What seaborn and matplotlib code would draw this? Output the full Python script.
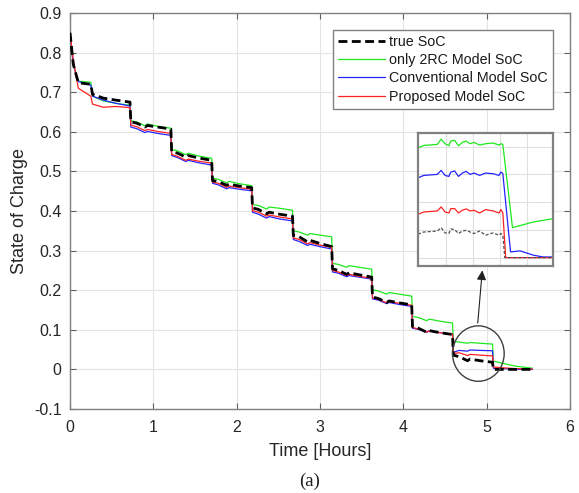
import numpy as np
import pandas as pd
import matplotlib
matplotlib.use("Agg")
import matplotlib.pyplot as plt
from matplotlib.patches import Ellipse
import seaborn as sns

# ---------------- data ----------------
time_h = [0.00, 0.04, 0.10, 0.25, 0.27, 0.40, 0.55, 0.72,
          0.73, 0.80, 0.90, 0.93, 1.05, 1.21,
          1.22, 1.29, 1.39, 1.42, 1.54, 1.70,
          1.71, 1.78, 1.88, 1.91, 2.03, 2.18,
          2.19, 2.26, 2.36, 2.39, 2.51, 2.67,
          2.68, 2.75, 2.85, 2.88, 3.00, 3.14,
          3.15, 3.22, 3.32, 3.35, 3.47, 3.62,
          3.63, 3.70, 3.80, 3.83, 3.95, 4.10,
          4.11, 4.18, 4.28, 4.31, 4.43, 4.59,
          4.60, 4.67, 4.77, 4.80, 4.92, 5.07,
          5.08, 5.20, 5.35, 5.55]

true_soc = [0.850, 0.770, 0.724, 0.720, 0.695, 0.685, 0.680, 0.675,
            0.625, 0.622, 0.612, 0.616, 0.612, 0.607,
            0.550, 0.546, 0.536, 0.540, 0.534, 0.528,
            0.477, 0.474, 0.465, 0.468, 0.463, 0.459,
            0.408, 0.404, 0.393, 0.397, 0.392, 0.387,
            0.338, 0.335, 0.322, 0.326, 0.318, 0.310,
            0.254, 0.250, 0.240, 0.244, 0.239, 0.233,
            0.183, 0.179, 0.169, 0.173, 0.168, 0.163,
            0.108, 0.104, 0.094, 0.098, 0.093, 0.088,
            0.036, 0.032, 0.022, 0.026, 0.022, 0.018,
            0.000, 0.000, 0.000, 0.000]

rc2_soc = [0.850, 0.770, 0.728, 0.725, 0.690, 0.678, 0.672, 0.667,
           0.628, 0.625, 0.615, 0.620, 0.614, 0.609,
           0.555, 0.552, 0.542, 0.546, 0.539, 0.533,
           0.483, 0.480, 0.471, 0.475, 0.469, 0.464,
           0.416, 0.414, 0.405, 0.410, 0.407, 0.402,
           0.350, 0.347, 0.339, 0.343, 0.339, 0.335,
           0.268, 0.265, 0.258, 0.262, 0.258, 0.253,
           0.201, 0.198, 0.190, 0.194, 0.190, 0.185,
           0.134, 0.131, 0.123, 0.127, 0.122, 0.117,
           0.070, 0.069, 0.066, 0.068, 0.066, 0.064,
           0.021, 0.015, 0.008, 0.003]

conv_soc = [0.850, 0.770, 0.727, 0.718, 0.690, 0.680, 0.672, 0.665,
            0.612, 0.608, 0.598, 0.601, 0.596, 0.591,
            0.540, 0.535, 0.525, 0.528, 0.522, 0.516,
            0.470, 0.466, 0.456, 0.459, 0.455, 0.451,
            0.397, 0.392, 0.382, 0.386, 0.380, 0.375,
            0.328, 0.323, 0.313, 0.316, 0.310, 0.304,
            0.246, 0.243, 0.234, 0.237, 0.233, 0.228,
            0.178, 0.175, 0.166, 0.169, 0.164, 0.159,
            0.104, 0.101, 0.094, 0.097, 0.093, 0.089,
            0.043, 0.048, 0.046, 0.049, 0.048, 0.047,
            0.003, 0.002, 0.000, 0.000]

prop_soc = [0.850, 0.780, 0.710, 0.690, 0.670, 0.662, 0.664, 0.661,
            0.617, 0.613, 0.603, 0.606, 0.601, 0.596,
            0.543, 0.538, 0.528, 0.531, 0.526, 0.521,
            0.473, 0.470, 0.460, 0.463, 0.459, 0.455,
            0.401, 0.397, 0.387, 0.390, 0.385, 0.380,
            0.332, 0.328, 0.317, 0.320, 0.314, 0.308,
            0.250, 0.246, 0.237, 0.240, 0.235, 0.230,
            0.181, 0.177, 0.168, 0.171, 0.167, 0.162,
            0.106, 0.102, 0.094, 0.097, 0.093, 0.089,
            0.040, 0.042, 0.035, 0.038, 0.036, 0.034,
            0.006, 0.004, 0.002, 0.001]

# inset (magnified view around t = 4.6 .. 5.3 h)
inset_t = [4.60, 4.63, 4.70, 4.72, 4.74, 4.76, 4.77, 4.79, 4.81, 4.83,
           4.85, 4.87, 4.89, 4.92, 4.95, 4.99, 5.02, 5.03, 5.04]
inset_rc2 = [0.0653, 0.0667, 0.0673, 0.0704, 0.0677, 0.0665, 0.0693, 0.0697, 0.0665, 0.0685,
             0.0693, 0.0677, 0.0685, 0.0669, 0.0677, 0.0681, 0.0669, 0.0677, 0.0673]
inset_conv = [0.0475, 0.0489, 0.0495, 0.0519, 0.0489, 0.0483, 0.0509, 0.0515, 0.0483, 0.0503,
              0.0513, 0.0495, 0.0503, 0.0489, 0.0503, 0.0499, 0.0489, 0.0509, 0.0499]
inset_prop = [0.0258, 0.0272, 0.0278, 0.0302, 0.0272, 0.0266, 0.0292, 0.0292, 0.0266, 0.0282,
              0.0290, 0.0278, 0.0282, 0.0266, 0.0286, 0.0278, 0.0266, 0.0286, 0.0266]
inset_true = [0.0140, 0.0153, 0.0159, 0.0179, 0.0148, 0.0144, 0.0171, 0.0167, 0.0144, 0.0159,
              0.0163, 0.0153, 0.0144, 0.0159, 0.0134, 0.0148, 0.0134, 0.0144, 0.0134]
tail_rc2_t, tail_rc2 = [5.09, 5.20, 5.30], [0.0179, 0.0213, 0.0232]
tail_conv_t, tail_conv = [5.08, 5.13, 5.20, 5.25, 5.30], [0.0035, 0.0041, 0.0015, 0.0005, 0.0005]
tail_prop_t, tail_prop = [5.055, 5.30], [0.0001, 0.0001]
tail_true_t, tail_true = [5.05, 5.30], [0.0001, 0.0001]

labels = ["true SoC", "only 2RC Model SoC", "Conventional Model SoC", "Proposed Model SoC"]
x_ticks = [0, 1, 2, 3, 4, 5, 6]
y_ticks = [-0.1, 0, 0.1, 0.2, 0.3, 0.4, 0.5, 0.6, 0.7, 0.8, 0.9]
y_tick_labels = ["-0.1", "0", "0.1", "0.2", "0.3", "0.4", "0.5", "0.6", "0.7", "0.8", "0.9"]

# ---------------- styling ----------------
sns.set_theme(style="whitegrid")
plt.rcParams["font.family"] = ["Liberation Sans", "DejaVu Sans"]

GREEN = "#1ee81e"
BLUE = "#2424ff"
RED = "#ff2222"

fig = plt.figure(figsize=(5.79, 4.93), dpi=100)
ax = fig.add_axes([0.1209, 0.1704, 0.8636, 0.8032])
ax.set_facecolor("white")

df = pd.DataFrame({"t": time_h, "true": true_soc, "rc2": rc2_soc,
                   "conv": conv_soc, "prop": prop_soc})

sns.lineplot(data=df, x="t", y="true", ax=ax, color="black", lw=2.0,
             estimator=None, sort=False, label=labels[0],
             linestyle=(0, (3.2, 1.6)), zorder=5)
sns.lineplot(data=df, x="t", y="rc2", ax=ax, color=GREEN, lw=0.9,
             estimator=None, sort=False, label=labels[1], zorder=3)
sns.lineplot(data=df, x="t", y="conv", ax=ax, color=BLUE, lw=0.9,
             estimator=None, sort=False, label=labels[2], zorder=3)
sns.lineplot(data=df, x="t", y="prop", ax=ax, color=RED, lw=0.9,
             estimator=None, sort=False, label=labels[3], zorder=4)

ax.set_xlim(0, 6)
ax.set_ylim(-0.1, 0.9)
ax.set_xticks(x_ticks)
ax.set_yticks(y_ticks)
ax.set_xticklabels([str(v) for v in x_ticks])
ax.set_yticklabels(y_tick_labels)
ax.grid(True, color="#e4e4e4", lw=0.8)
for s in ax.spines.values():
    s.set_visible(True)
    s.set_color("#808080")
    s.set_linewidth(1.0)
ax.tick_params(direction="in", length=4, width=0.8, color="#606060",
               top=True, right=True, bottom=True, left=True,
               labelsize=11.5, labelcolor="#262626")
ax.tick_params(axis="x", pad=8)
ax.tick_params(axis="y", pad=6)
ax.set_xlabel("Time [Hours]", fontsize=13, color="#262626", labelpad=6)
ax.set_ylabel("State of Charge", fontsize=13, color="#262626", labelpad=4)

leg = ax.legend(loc="upper right", bbox_to_anchor=(0.966, 0.958), fontsize=10.3,
                frameon=True, fancybox=False, framealpha=1, edgecolor="#808080",
                handlelength=3.3, handletextpad=0.3, labelspacing=0.3,
                borderpad=0.35, borderaxespad=0)
leg.get_frame().set_linewidth(1.0)
for txt in leg.get_texts():
    txt.set_color("#1a1a1a")

# circle + arrow
ax.add_patch(Ellipse((4.90, 0.040), 0.62, 0.14, fill=False, edgecolor="#404040", lw=1.0, zorder=6))
ax.annotate("", xy=(4.95, 0.257), xytext=(4.89, 0.110),
            arrowprops=dict(arrowstyle="-|>", color="#202020", lw=0.8, mutation_scale=14),
            zorder=7)

# inset
axin = fig.add_axes([0.722, 0.460, 0.233, 0.270])
axin.set_facecolor("white")
sns.lineplot(x=inset_t + tail_rc2_t, y=inset_rc2 + tail_rc2, ax=axin, color=GREEN, lw=0.9,
             estimator=None, sort=False)
sns.lineplot(x=inset_t + tail_conv_t, y=inset_conv + tail_conv, ax=axin, color=BLUE, lw=0.9,
             estimator=None, sort=False)
sns.lineplot(x=inset_t + tail_prop_t, y=inset_prop + tail_prop, ax=axin, color=RED, lw=0.9,
             estimator=None, sort=False)
sns.lineplot(x=inset_t + tail_true_t, y=inset_true + tail_true, ax=axin, color="#505050",
             lw=0.9, estimator=None, sort=False, linestyle=(0, (2.5, 1.5)))
axin.set_xlim(4.60, 5.30)
axin.set_ylim(-0.005, 0.074)
axin.set_xticks([4.745, 4.885, 5.025, 5.165])
axin.set_yticks([0.0, 0.0165, 0.033, 0.0495, 0.066])
axin.set_xticklabels([])
axin.set_yticklabels([])
axin.tick_params(length=0)
axin.set_xlabel("")
axin.set_ylabel("")
axin.grid(True, color="#e0e0e0", lw=0.8)
for s in axin.spines.values():
    s.set_visible(True)
    s.set_color("#808080")
    s.set_linewidth(1.6)

fig.text(0.535, 0.024, "(a)", ha="center", va="center", fontsize=13.5,
         family=["Liberation Serif", "DejaVu Serif"], color="#1a1a1a")

fig.savefig("out.png", dpi=100)
